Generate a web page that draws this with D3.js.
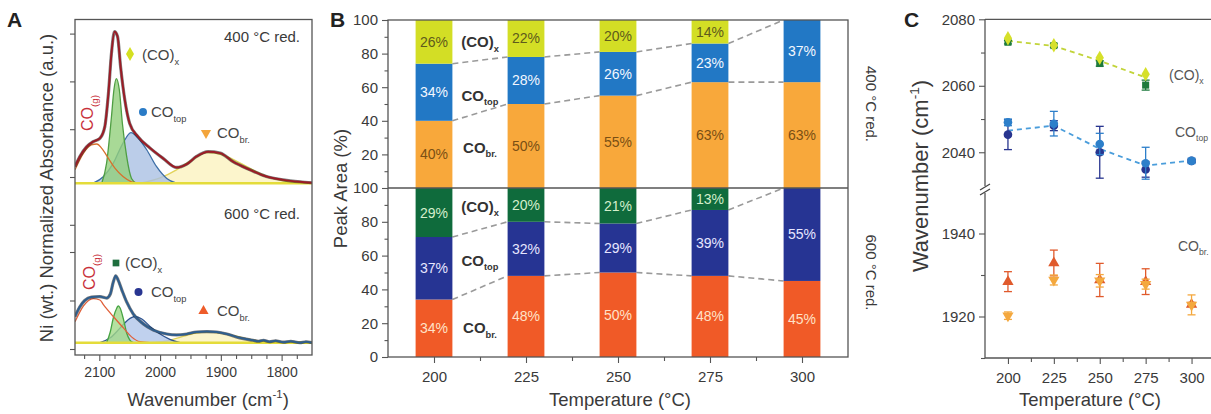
<!DOCTYPE html>
<html><head><meta charset="utf-8">
<script src="https://cdn.jsdelivr.net/npm/d3@7"></script>
<style>
body{margin:0;background:#fff}
svg{display:block;font-family:"Liberation Sans",Arial,Helvetica,sans-serif}
</style>
</head><body>
<svg id="fig" width="1211" height="414"></svg>
<script>
// ---------- Panel A: DRIFTS spectra, [wavenumber (cm-1), normalized absorbance] ----------
const spec400 = [[2140,0.22],[2132,0.43],[2121,0.63],[2110,0.74],[2099,0.81],[2091,1.05],[2085,1.75],[2080,2.59],[2075,3.04],[2070,2.94],[2065,2.31],[2058,1.61],[2050,1.12],[2036,0.84],[2017,0.61],[1995,0.39],[1973,0.20],[1956,0.27],[1940,0.43],[1921,0.53],[1901,0.50],[1880,0.32],[1852,0.15],[1825,0.01],[1797,-0.06],[1770,-0.10],[1750,-0.12]];
const cog400   = [[2140,0.15],[2126,0.50],[2113,0.67],[2104,0.69],[2096,0.60],[2085,0.39],[2074,0.18],[2061,0.01],[2047,-0.10],[2033,-0.13]];
const cox400   = [[2096,-0.13],[2088,0.29],[2080,1.26],[2076,1.82],[2072,2.06],[2067,1.82],[2062,1.12],[2055,0.43],[2047,-0.03],[2039,-0.13]];
const cotop400 = [[2110,-0.13],[2093,0.01],[2077,0.29],[2061,0.71],[2048,0.93],[2036,0.81],[2022,0.57],[2006,0.22],[1989,-0.03],[1973,-0.13]];
const cobr400  = [[2033,-0.13],[2000,-0.02],[1973,0.15],[1950,0.34],[1923,0.51],[1896,0.46],[1868,0.29],[1841,0.11],[1814,-0.03],[1786,-0.11],[1761,-0.13]];
const base400 = -0.13;

const spec600 = [[2140,0.67],[2132,0.87],[2124,1.00],[2113,1.07],[2099,1.08],[2088,1.05],[2082,1.13],[2077,1.38],[2073,1.51],[2069,1.42],[2063,1.22],[2055,0.97],[2044,0.72],[2028,0.52],[2011,0.39],[1989,0.31],[1973,0.29],[1956,0.31],[1940,0.35],[1923,0.36],[1907,0.35],[1890,0.31],[1869,0.23],[1847,0.18],[1838,0.16],[1830,0.18],[1820,0.15],[1810,0.17],[1797,0.14],[1785,0.16],[1770,0.13],[1760,0.15],[1750,0.13]];
const cog600   = [[2140,0.56],[2126,0.89],[2110,1.04],[2099,1.01],[2093,0.91],[2077,0.67],[2060,0.43],[2047,0.25],[2033,0.15],[2017,0.13]];
const cox600   = [[2088,0.13],[2082,0.35],[2077,0.64],[2071,0.85],[2069,0.89],[2066,0.85],[2060,0.60],[2055,0.33],[2050,0.19],[2044,0.13]];
const cotop600 = [[2099,0.13],[2082,0.23],[2066,0.43],[2053,0.60],[2041,0.67],[2030,0.62],[2017,0.47],[2000,0.31],[1984,0.20],[1967,0.13]];
const cobr600  = [[2017,0.13],[1992,0.16],[1967,0.24],[1943,0.32],[1923,0.35],[1901,0.33],[1877,0.27],[1852,0.20],[1827,0.15],[1794,0.13]];
const base600 = 0.13;

const wnTicks = [2100, 2000, 1900, 1800];

// ---------- Panel B: peak area fractions (%) ----------
const temps = [200, 225, 250, 275, 300];
const br400 = [40, 50, 55, 63, 63];
const top400 = [34, 28, 26, 23, 37];
const x400 = [26, 22, 20, 14, 0];
const br600 = [34, 48, 50, 48, 45];
const top600 = [37, 32, 29, 39, 55];
const x600 = [29, 20, 21, 13, 0];
const areaTicks = [0, 20, 40, 60, 80, 100];

// ---------- Panel C: peak positions (cm-1) with error bars ----------
const posX400   = [2074.3, 2072.2, 2068.4, 2063.5];
const posX600   = [2073.1, 2072.1, 2066.7, 2060.2];
const errX600   = [0.5, 0.5, 0.8, 1.5];
const trendX    = [2073.5, 2072.0, 2067.5, 2062.5];
const posTop400 = [2049.0, 2048.6, 2042.5, 2036.7, 2037.4];
const errTop400 = [1.0, 3.7, 3.2, 4.8, 0.8];
const posTop600 = [2045.3, 2048.0, 2040.0, 2034.8, 2037.4];
const errTop600 = [4.5, 1.5, 7.8, 2.3, 0.5];
const trendTop  = [2046.5, 2048.0, 2041.0, 2036.0, 2037.5];
const posBr400  = [1920.2, 1928.8, 1928.6, 1927.8, 1922.8];
const errBr400  = [0.9, 1.2, 1.5, 1.2, 2.4];
const posBr600  = [1928.4, 1932.9, 1928.8, 1928.4, 1922.9];
const errBr600  = [2.4, 3.1, 4.0, 3.1, 0.5];

// ---------------------------------------------------------------
const svg = d3.select("#fig");
const AX = "#555";
const TXT = "#3a3a3a";

// text with sub/superscript parts: [[str, "n"|"sub"|"sup"], ...]
function rich(g, x, y, parts, fs, attrs = {}) {
  const t = g.append("text").attr("x", x).attr("y", y).attr("font-size", fs);
  Object.entries(attrs).forEach(([k, v]) => t.attr(k, v));
  let shift = 0;
  parts.forEach(([s, kind]) => {
    const target = kind === "sub" ? 0.32 * fs : kind === "sup" ? -0.42 * fs : 0;
    const ts = t.append("tspan").text(s);
    if (target - shift !== 0) ts.attr("dy", target - shift);
    if (kind !== "n") ts.attr("font-size", 0.62 * fs);
    shift = target;
  });
  return t;
}
function styleAxis(g) {
  g.select(".domain").remove();
  g.selectAll(".tick line").attr("stroke", AX).attr("stroke-width", 1.1);
  g.selectAll(".tick text").attr("fill", TXT).attr("font-family", null);
  return g;
}
function marker(g, type, x, y, size, fill, rot = 0) {
  g.append("path")
    .attr("d", d3.symbol().type(type).size(size)())
    .attr("transform", `translate(${x},${y}) rotate(${rot})`)
    .attr("fill", fill);
}

// ====================== Panel A ======================
const A = { l: 75, r: 312, t: 19.5, b: 355 };
const gA = svg.append("g");
const xA = d3.scaleLinear().domain([2140, 1750]).range([A.l, A.r]);
const yAT = d3.scaleLinear().domain([0, 1]).range([177, 129.2]);
const yAB = d3.scaleLinear().domain([0, 1]).range([349, 300.5]);

svg.append("defs").append("clipPath").attr("id", "clipA")
  .append("rect").attr("x", A.l).attr("y", A.t).attr("width", A.r - A.l).attr("height", A.b - A.t);
const plotA = gA.append("g").attr("clip-path", "url(#clipA)");

function comp(yS, base, data, fill, stroke) {
  if (fill) {
    plotA.append("path").datum(data)
      .attr("d", d3.area().x(d => xA(d[0])).y0(yS(base)).y1(d => yS(d[1])).curve(d3.curveMonotoneX))
      .attr("fill", fill).attr("fill-opacity", 0.8);
  }
  plotA.append("path").datum(data)
    .attr("d", d3.line().x(d => xA(d[0])).y(d => yS(d[1])).curve(d3.curveMonotoneX))
    .attr("fill", "none").attr("stroke", stroke).attr("stroke-width", 1.3);
}
function spectrum(yS, data, color, w) {
  plotA.append("path").datum(data)
    .attr("d", d3.line().x(d => xA(d[0])).y(d => yS(d[1])).curve(d3.curveMonotoneX))
    .attr("fill", "none").attr("stroke", "#1b1b1b").attr("stroke-width", w + 1.2).attr("stroke-opacity", 0.55);
  plotA.append("path").datum(data)
    .attr("d", d3.line().x(d => xA(d[0])).y(d => yS(d[1])).curve(d3.curveMonotoneX))
    .attr("fill", "none").attr("stroke", color).attr("stroke-width", w);
}
function baseLine(yS, base) {
  plotA.append("line").attr("x1", A.l).attr("x2", A.r).attr("y1", yS(base)).attr("y2", yS(base))
    .attr("stroke", "#e4dc3a").attr("stroke-width", 2.6);
}

// 400 °C reduced
comp(yAT, base400, cobr400, "#fbf2bf", "#e2d35a");
comp(yAT, base400, cotop400, "#aac0e4", "#3d6ea6");
comp(yAT, base400, cox400, "#92d07c", "#4f9e43");
comp(yAT, base400, cog400, null, "#d7702d");
baseLine(yAT, base400);
spectrum(yAT, spec400, "#9b1c26", 2);
// 600 °C reduced
comp(yAB, base600, cobr600, "#fbf2bf", "#e2d35a");
comp(yAB, base600, cotop600, "#b0c6ea", "#2f5590");
comp(yAB, base600, cox600, "#a2da88", "#47a443");
comp(yAB, base600, cog600, null, "#e0603a");
baseLine(yAB, base600);
spectrum(yAB, spec600, "#2f5e8e", 2);

gA.append("rect").attr("x", A.l).attr("y", A.t).attr("width", A.r - A.l).attr("height", A.b - A.t)
  .attr("fill", "none").attr("stroke", AX).attr("stroke-width", 1.3);

const axA = gA.append("g").attr("transform", `translate(0,${A.b})`)
  .call(d3.axisBottom(xA).tickValues(wnTicks).tickSize(6).tickPadding(6).tickFormat(d3.format("d")));
styleAxis(axA).selectAll(".tick text").attr("font-size", 14);
styleAxis(gA.append("g").attr("transform", `translate(0,${A.b})`)
  .call(d3.axisBottom(xA).tickValues(d3.range(1775, 2140, 25).filter(v => v % 100 !== 0)).tickSize(4).tickFormat("")));
styleAxis(gA.append("g").attr("transform", `translate(${A.l},0)`)
  .call(d3.axisLeft(yAT).tickValues([-1, 0, 1, 2, 3]).tickSize(5).tickFormat("")));
styleAxis(gA.append("g").attr("transform", `translate(${A.l},0)`)
  .call(d3.axisLeft(yAB).tickValues([0, 1, 2]).tickSize(5).tickFormat("")));

gA.append("text").attr("x", 300).attr("y", 42).attr("text-anchor", "end").attr("font-size", 15)
  .attr("fill", TXT).text("400 °C red.");
gA.append("text").attr("x", 300).attr("y", 219).attr("text-anchor", "end").attr("font-size", 15)
  .attr("fill", TXT).text("600 °C red.");

// legend markers and species labels
marker(gA, d3.symbolDiamond, 130, 54, 55, "#d4e021");
rich(gA, 142, 60, [["(CO)", "n"], ["x", "sub"]], 15, { fill: "#444" });
marker(gA, d3.symbolCircle, 143, 112, 50, "#2a7bc6");
rich(gA, 151, 117, [["CO", "n"], ["top", "sub"]], 15, { fill: "#444" });
marker(gA, d3.symbolTriangle, 206, 133, 45, "#f3a53c", 180);
rich(gA, 217, 138, [["CO", "n"], ["br.", "sub"]], 15, { fill: "#444" });

marker(gA, d3.symbolSquare, 116, 263, 45, "#1e6e3e");
rich(gA, 125, 268, [["(CO)", "n"], ["x", "sub"]], 15, { fill: "#444" });
marker(gA, d3.symbolCircle, 138.5, 292, 50, "#283591");
rich(gA, 151, 297, [["CO", "n"], ["top", "sub"]], 15, { fill: "#444" });
marker(gA, d3.symbolTriangle, 203.5, 311, 45, "#ee5c2a");
rich(gA, 217, 316, [["CO", "n"], ["br.", "sub"]], 15, { fill: "#444" });

rich(gA, 0, 0, [["CO", "n"], ["(g)", "sub"]], 16, { fill: "#c8303a", "text-anchor": "middle", transform: "translate(93,113) rotate(-90)" });
rich(gA, 0, 0, [["CO", "n"], ["(g)", "sub"]], 16, { fill: "#c8303a", "text-anchor": "middle", transform: "translate(95,272) rotate(-90)" });

gA.append("text").attr("transform", "translate(53,188) rotate(-90)").attr("text-anchor", "middle")
  .attr("font-size", 18.5).attr("fill", TXT).text("Ni (wt.) Normalized Absorbance (a.u.)");
rich(gA, 208, 406, [["Wavenumber (cm", "n"], ["-1", "sup"], [")", "n"]], 18.5, { fill: TXT, "text-anchor": "middle" });
gA.append("text").attr("x", 7).attr("y", 27).attr("font-size", 21).attr("font-weight", "bold").attr("fill", "#222").text("A");

// ====================== Panel B ======================
const B = { l: 388, r: 848, t: 20, m: 188, b: 357 };
const gB = svg.append("g");
const xB = d3.scaleLinear().domain([187.5, 312.5]).range([B.l, B.r]);
const yBU = d3.scaleLinear().domain([0, 100]).range([B.m, B.t]).clamp(true);
const yBL = d3.scaleLinear().domain([0, 100]).range([B.b, B.m]).clamp(true);
const barW = 10; // °C

const halves = [
  { y: yBU, series: [br400, top400, x400], fills: ["#f8a83b", "#2278c5", "#d3de25"], txt: ["#7a4f14", "#f2f7ff", "#5e5a1c"] },
  { y: yBL, series: [br600, top600, x600], fills: ["#f05a27", "#263493", "#0f6b3c"], txt: ["#ffe2c8", "#e6e6ff", "#d5efcc"] }
];

halves.forEach(h => {
  const stacked = temps.map((t, i) => {
    let c = 0;
    return h.series.map((s, k) => { const seg = { t, k, v: s[i], y0: c, y1: c + s[i] }; c += s[i]; return seg; });
  });
  // connecting dashed lines between bar boundaries
  [0, 1].forEach(k => {
    for (let i = 0; i < temps.length - 1; i++) {
      gB.append("line")
        .attr("x1", xB(temps[i] + barW / 2)).attr("y1", h.y(stacked[i][k].y1))
        .attr("x2", xB(temps[i + 1] - barW / 2)).attr("y2", h.y(stacked[i + 1][k].y1))
        .attr("stroke", "#9a9a9a").attr("stroke-width", 1.6).attr("stroke-dasharray", "6,4");
    }
  });
  stacked.flat().filter(d => d.v > 0).forEach(d => {
    gB.append("rect")
      .attr("x", xB(d.t - barW / 2)).attr("width", xB(d.t + barW / 2) - xB(d.t - barW / 2))
      .attr("y", h.y(d.y1)).attr("height", h.y(d.y0) - h.y(d.y1))
      .attr("fill", h.fills[d.k]);
    gB.append("text").attr("x", xB(d.t)).attr("y", (h.y(d.y0) + h.y(d.y1)) / 2 + 5)
      .attr("text-anchor", "middle").attr("font-size", 14).attr("fill", h.txt[d.k]).text(d.v + "%");
  });
});

gB.append("rect").attr("x", B.l).attr("y", B.t).attr("width", B.r - B.l).attr("height", B.b - B.t)
  .attr("fill", "none").attr("stroke", AX).attr("stroke-width", 1.3);
gB.append("line").attr("x1", B.l).attr("x2", B.r).attr("y1", B.m).attr("y2", B.m).attr("stroke", AX).attr("stroke-width", 1.3);

const axB = gB.append("g").attr("transform", `translate(0,${B.b})`)
  .call(d3.axisBottom(xB).tickValues(temps).tickSize(6).tickPadding(8).tickFormat(d3.format("d")));
styleAxis(axB).selectAll(".tick text").attr("font-size", 15);
styleAxis(gB.append("g").attr("transform", `translate(0,${B.b})`)
  .call(d3.axisBottom(xB).tickValues(temps.slice(1).map(t => t - 12.5)).tickSize(4).tickFormat("")));
const axBU = gB.append("g").attr("transform", `translate(${B.l},0)`)
  .call(d3.axisLeft(yBU).tickValues(areaTicks.slice(1)).tickSize(6).tickPadding(4));
styleAxis(axBU).selectAll(".tick text").attr("font-size", 15);
const axBL = gB.append("g").attr("transform", `translate(${B.l},0)`)
  .call(d3.axisLeft(yBL).tickValues(areaTicks).tickSize(6).tickPadding(4));
styleAxis(axBL).selectAll(".tick text").attr("font-size", 15);
[yBU, yBL].forEach(ys => styleAxis(gB.append("g").attr("transform", `translate(${B.l},0)`)
  .call(d3.axisLeft(ys).tickValues([10, 30, 50, 70, 90]).tickSize(3.5).tickFormat(""))));

// species names between the first two bars
const nameX = xB(212.5);
[[yBU, 87, 55, 24], [yBL, 89, 57, 17]].forEach(([ys, vx, vt, vb]) => {
  rich(gB, nameX, ys(vx) + 5, [["(CO)", "n"], ["x", "sub"]], 15, { fill: "#333", "font-weight": "bold", "text-anchor": "middle" });
  rich(gB, nameX, ys(vt) + 5, [["CO", "n"], ["top", "sub"]], 15, { fill: "#333", "font-weight": "bold", "text-anchor": "middle" });
  rich(gB, nameX, ys(vb) + 5, [["CO", "n"], ["br.", "sub"]], 15, { fill: "#333", "font-weight": "bold", "text-anchor": "middle" });
});

gB.append("text").attr("transform", `translate(866,${(B.t + B.m) / 2}) rotate(90)`).attr("text-anchor", "middle")
  .attr("font-size", 15).attr("fill", TXT).text("400 °C red.");
gB.append("text").attr("transform", `translate(866,${(B.m + B.b) / 2}) rotate(90)`).attr("text-anchor", "middle")
  .attr("font-size", 15).attr("fill", TXT).text("600 °C red.");
gB.append("text").attr("transform", `translate(347,${(B.t + B.b) / 2}) rotate(-90)`).attr("text-anchor", "middle")
  .attr("font-size", 18.5).attr("fill", TXT).text("Peak Area (%)");
gB.append("text").attr("x", 620).attr("y", 406).attr("text-anchor", "middle")
  .attr("font-size", 18.5).attr("fill", TXT).text("Temperature (°C)");
gB.append("text").attr("x", 330).attr("y", 27).attr("font-size", 21).attr("font-weight", "bold").attr("fill", "#222").text("B");

// ====================== Panel C ======================
const C = { l: 985, r: 1214.5, t: 19.3, b: 358 };
const gC = svg.append("g");
const xC = d3.scaleLinear().domain([187.5, 312.5]).range([C.l, C.r]);
const yCU = d3.scaleLinear().domain([2030, 2080]).range([185.5, C.t]);
const yCL = d3.scaleLinear().domain([1910, 1950]).range([C.b, 192]);

gC.append("line").attr("x1", C.l).attr("x2", 1211).attr("y1", C.t).attr("y2", C.t).attr("stroke", AX).attr("stroke-width", 1.3);
gC.append("line").attr("x1", C.l).attr("x2", 1211).attr("y1", C.b).attr("y2", C.b).attr("stroke", AX).attr("stroke-width", 1.3);
gC.append("line").attr("x1", C.l).attr("x2", C.l).attr("y1", C.t).attr("y2", 186).attr("stroke", AX).attr("stroke-width", 1.3);
gC.append("line").attr("x1", C.l).attr("x2", C.l).attr("y1", 193).attr("y2", C.b).attr("stroke", AX).attr("stroke-width", 1.3);
[0, 5].forEach(dy => gC.append("line").attr("x1", C.l - 5).attr("x2", C.l + 5)
  .attr("y1", 190 + dy).attr("y2", 184 + dy).attr("stroke", "#444").attr("stroke-width", 1.3));

const axCx = gC.append("g").attr("transform", `translate(0,${C.b})`)
  .call(d3.axisBottom(xC).tickValues(temps).tickSize(6).tickPadding(8).tickFormat(d3.format("d")));
styleAxis(axCx).selectAll(".tick text").attr("font-size", 15);
styleAxis(gC.append("g").attr("transform", `translate(0,${C.b})`)
  .call(d3.axisBottom(xC).tickValues(temps.map(t => t + 12.5)).tickSize(4).tickFormat("")));
const axCU = gC.append("g").attr("transform", `translate(${C.l},0)`)
  .call(d3.axisLeft(yCU).tickValues([2040, 2060, 2080]).tickSize(6).tickPadding(4).tickFormat(d3.format("d")));
styleAxis(axCU).selectAll(".tick text").attr("font-size", 15);
styleAxis(gC.append("g").attr("transform", `translate(${C.l},0)`)
  .call(d3.axisLeft(yCU).tickValues([2050, 2070]).tickSize(4).tickFormat("")));
const axCL = gC.append("g").attr("transform", `translate(${C.l},0)`)
  .call(d3.axisLeft(yCL).tickValues([1920, 1940]).tickSize(6).tickPadding(4).tickFormat(d3.format("d")));
styleAxis(axCL).selectAll(".tick text").attr("font-size", 15);
styleAxis(gC.append("g").attr("transform", `translate(${C.l},0)`)
  .call(d3.axisLeft(yCL).tickValues([1910, 1930]).tickSize(4).tickFormat("")));

function trend(ys, vals, color) {
  gC.append("path").datum(vals)
    .attr("d", d3.line().x((d, i) => xC(temps[i])).y(d => ys(d)))
    .attr("fill", "none").attr("stroke", color).attr("stroke-width", 1.8).attr("stroke-dasharray", "5,4");
}
function series(ys, vals, errs, color, type, size, rot = 0) {
  vals.forEach((v, i) => {
    const x = xC(temps[i]);
    if (errs) {
      const e = errs[i];
      gC.append("line").attr("x1", x).attr("x2", x).attr("y1", ys(v - e)).attr("y2", ys(v + e)).attr("stroke", color).attr("stroke-width", 1.3);
      [v - e, v + e].forEach(w => gC.append("line").attr("x1", x - 4).attr("x2", x + 4).attr("y1", ys(w)).attr("y2", ys(w))
        .attr("stroke", color).attr("stroke-width", 1.3));
    }
    marker(gC, type, x, ys(v), size, color, rot);
  });
}

trend(yCU, trendX, "#c2d43a");
trend(yCU, trendTop, "#4a9ddb");
series(yCU, posX600, errX600, "#1d7a3c", d3.symbolSquare, 50);
series(yCU, posX400, null, "#d6e02a", d3.symbolDiamond, 60);
series(yCU, posTop600, errTop600, "#28358f", d3.symbolCircle, 58);
series(yCU, posTop400, errTop400, "#2d7fca", d3.symbolCircle, 58);
series(yCL, posBr600, errBr600, "#e05a2c", d3.symbolTriangle, 55);
series(yCL, posBr400, errBr400, "#f4a83e", d3.symbolTriangle, 55, 180);

rich(gC, 1169, 80, [["(CO)", "n"], ["x", "sub"]], 14, { fill: "#555" });
rich(gC, 1175, 137, [["CO", "n"], ["top", "sub"]], 14, { fill: "#555" });
rich(gC, 1178, 251, [["CO", "n"], ["br.", "sub"]], 14, { fill: "#555" });

rich(gC, 0, 0, [["Wavenumber (cm", "n"], ["-1", "sup"], [")", "n"]], 22, { fill: TXT, "text-anchor": "middle", transform: "translate(928,176) rotate(-90)" });
gC.append("text").attr("x", 1090).attr("y", 406).attr("text-anchor", "middle")
  .attr("font-size", 18.5).attr("fill", TXT).text("Temperature (°C)");
gC.append("text").attr("x", 904).attr("y", 27).attr("font-size", 21).attr("font-weight", "bold").attr("fill", "#222").text("C");
</script>
</body></html>
